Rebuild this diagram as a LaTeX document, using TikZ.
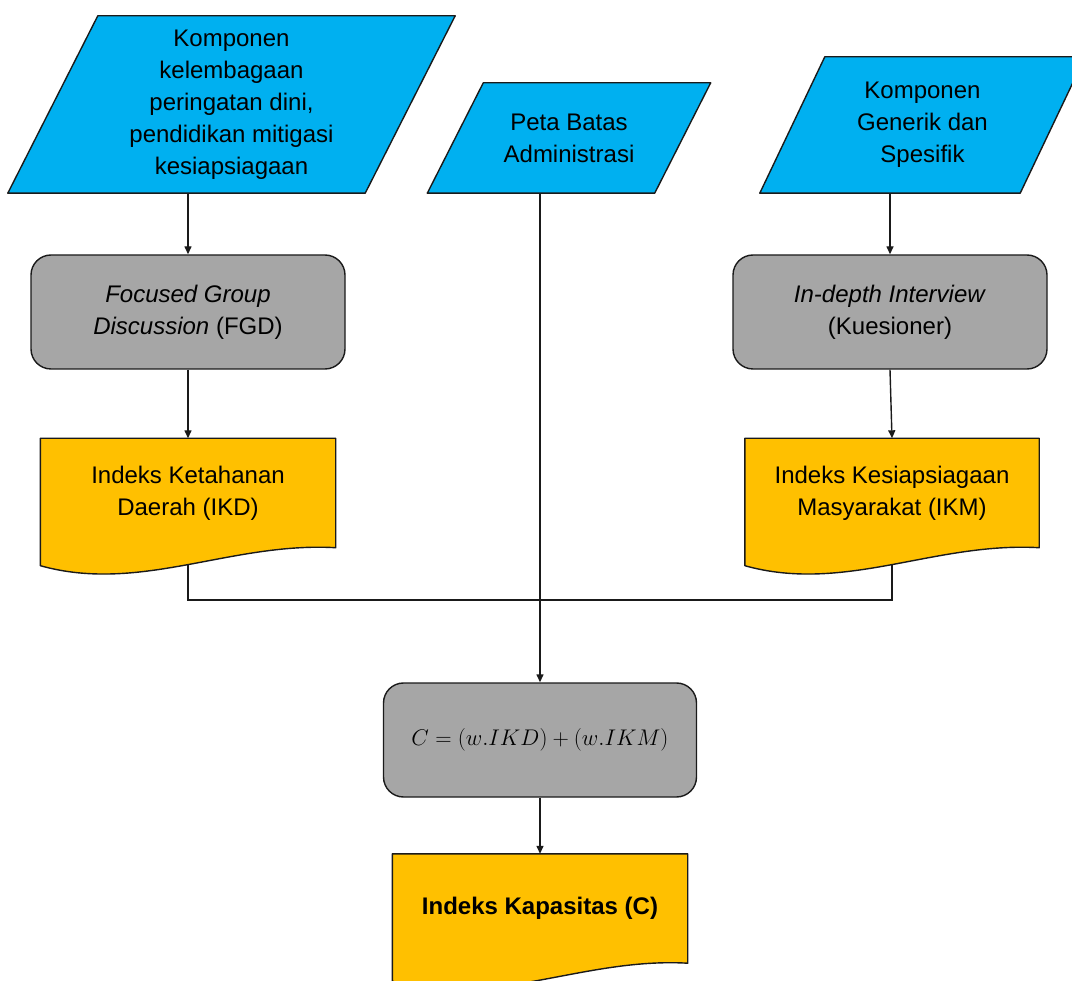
\documentclass[tikz,border=0pt]{standalone}
\usepackage{fontspec}
\usepackage{graphicx}
\setmainfont{Liberation Sans}
\usetikzlibrary{arrows.meta,calc}
\pgfdeclarelayer{links}
\pgfdeclarelayer{shapes}
\pgfsetlayers{links,shapes,main}

\definecolor{inblue}{HTML}{00B0F0}
\definecolor{procgray}{HTML}{A6A6A6}
\definecolor{docyellow}{HTML}{FFC000}
\definecolor{edge}{HTML}{1A1A1A}

\tikzset{
  label text/.style={font=\fontsize{24}{32}\selectfont, align=center, text=black},
  frame/.style={draw=edge, line width=1.4pt, line join=round},
  inputbox/.style={label text, draw=none, inner sep=0pt},
  procbox/.style={label text, rectangle, rounded corners=20pt, frame, fill=procgray},
  docbox/.style={label text, draw=none, inner sep=0pt},
  link/.style={draw=edge, line width=1.4pt},
  arrowlink/.style={link, -{Triangle[length=8pt,width=7pt]}},
}

% parallelogram drawn over the bounding box of node #1 with horizontal slant #2
\newcommand\parallelshape[2]{%
  \path[frame, fill=inblue] (#1.south west) -- ($(#1.north west)+(#2,0)$)
    -- (#1.north east) -- ($(#1.south east)+(-#2,0)$) -- cycle;}
% document shape with a wavy lower edge below node #1
\newcommand\docshape[1]{%
  \path[frame, fill=docyellow] (#1.north west) -- (#1.north east) -- (#1.south east)
    .. controls ($(#1.south east)+(-105,-6)$) and ($(#1.south west)+(100,46)$)
    .. ($(#1.south west)+(0,18)$) -- cycle;}

\begin{document}
\begin{tikzpicture}[x=1pt, y=-1pt]
\useasboundingbox (0,0) rectangle (1072,981);
\clip (0,0) rectangle (1072,981);

% inputs
\node[inputbox, minimum width=447pt, minimum height=177pt] (in1) at (231.5,104.5)
  {Komponen\\kelembagaan\\peringatan dini,\\pendidikan mitigasi\\kesiapsiagaan};
\node[inputbox, minimum width=283pt, minimum height=110pt] (in2) at (569,138)
  {Peta Batas\\Administrasi};
\node[inputbox, minimum width=325pt, minimum height=136pt] (in3) at (922.5,125)
  {Komponen\\Generik dan\\Spesifik};

% processes
\node[procbox, minimum width=314pt, minimum height=114pt] (fgd) at (188,312)
  {\textit{Focused Group}\\\textit{Discussion} (FGD)};
\node[procbox, minimum width=314pt, minimum height=114pt] (kue) at (890,312)
  {\textit{In-depth Interview}\\(Kuesioner)};
\node[procbox, minimum width=313pt, minimum height=114pt] (formula) at (540,740)
  {\resizebox{257pt}{!}{$C=(w.IKD)+(w.IKM)$}};

% documents
\node[docbox, minimum width=295pt, minimum height=109pt] (ikd) at (188,493)
  {Indeks Ketahanan\\Daerah (IKD)};
\node[docbox, minimum width=294pt, minimum height=109pt] (ikm) at (892,493)
  {Indeks Kesiapsiagaan\\Masyarakat (IKM)};
\node[docbox, minimum width=295pt, minimum height=109pt] (cap) at (540,908.5)
  {\textbf{Indeks Kapasitas (C)}};

\coordinate (join) at (540,600);

\begin{pgfonlayer}{shapes}
  \parallelshape{in1}{90}
  \parallelshape{in2}{56}
  \parallelshape{in3}{65}
  \docshape{ikd}
  \docshape{ikm}
  \docshape{cap}
\end{pgfonlayer}

\begin{pgfonlayer}{links}
  \draw[arrowlink] (in1.south -| fgd.north) -- (fgd.north);
  \draw[arrowlink] (in3.south -| kue.north) -- (kue.north);
  \draw[arrowlink] (fgd.south) -- (ikd.north);
  \draw[arrowlink] (kue.south) -- (ikm.north);
  \draw[arrowlink] (in2.south -| formula.north) -- (formula.north);
  \draw[arrowlink] (formula.south) -- (cap.north);
  \draw[link] (ikd.center) -- (ikd.center |- join) -- (ikm.center |- join) -- (ikm.center);
\end{pgfonlayer}
\end{tikzpicture}
\end{document}
